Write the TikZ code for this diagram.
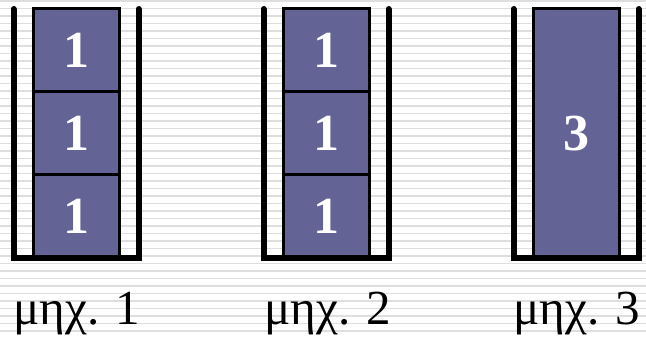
\documentclass[tikz,border=0pt]{standalone}
\usepackage{fontspec}
\setmainfont{Liberation Serif}
\usetikzlibrary{positioning}
\definecolor{jobBlue}{RGB}{99,99,150}
\definecolor{stripeGray}{RGB}{222,222,222}

\begin{document}
\begin{tikzpicture}[x=1pt, y=-1pt,
    job/.style={draw=black, line width=3pt, fill=jobBlue, text=white,
      minimum width=86pt, minimum height=83pt, inner sep=0pt, outer sep=0pt,
      font=\fontsize{52}{52}\selectfont\bfseries},
    wall/.style={draw=black, line width=6pt, line cap=round},
    lbl/.style={anchor=base, font=\fontsize{49}{49}\selectfont},
  ]
  \useasboundingbox (0,0) rectangle (646,339);
  % striped background
  \foreach \k in {0,...,44}
    \draw[stripeGray, line width=1.6pt] (0,1+7.5*\k) -- (646,1+7.5*\k);

  % machine 1
  \node[job] (j1a) at (76,50.5) {1};
  \node[job, below=0pt of j1a] (j1b) {1};
  \node[job, below=0pt of j1b] (j1c) {1};
  \draw[wall] (13.5,9) |- (138.5,258) -- (138.5,9);
  \node[lbl] (m1) at (77,325) {μηχ. 1};

  % machine 2
  \node[job] (j2a) at (326,50.5) {1};
  \node[job, below=0pt of j2a] (j2b) {1};
  \node[job, below=0pt of j2b] (j2c) {1};
  \draw[wall] (263.5,9) |- (388.5,258) -- (388.5,9);
  \node[lbl] (m2) at (328,325) {μηχ. 2};

  % machine 3
  \node[job, minimum height=249pt] (j3) at (576,133.5) {3};
  \draw[wall] (513.5,9) |- (638.5,258) -- (638.5,9);
  \node[lbl] (m3) at (577,325) {μηχ. 3};
\end{tikzpicture}
\end{document}
